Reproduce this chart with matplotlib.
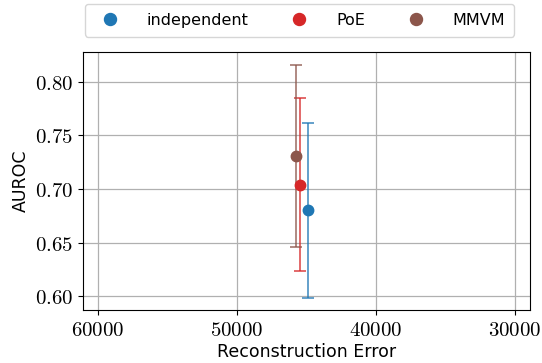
import matplotlib
matplotlib.use("Agg")
import matplotlib.pyplot as plt
from matplotlib.ticker import FuncFormatter

plt.rcParams['mathtext.fontset'] = 'cm'
plt.rcParams['font.family'] = ['DejaVu Sans']

# aggregation methods: reconstruction error vs. AUROC (mean +/- std)
methods = ["independent", "PoE", "MMVM"]
colors = ["tab:blue", "tab:red", "tab:brown"]
rec_error = [44900, 45450, 45780]
auroc = [0.680, 0.704, 0.731]
auroc_std = [0.082, 0.081, 0.085]

fig, ax = plt.subplots(figsize=(5.42, 3.63), dpi=100)

for m, c, x, y, s in zip(methods, colors, rec_error, auroc, auroc_std):
    eb = ax.errorbar(x, y, yerr=s, fmt="o", color=c, ms=7.5, capsize=4,
                     elinewidth=1.3, capthick=1.3, label=m, zorder=3)
    for part in eb[1] + eb[2]:
        part.set_alpha(0.75)

ax.set_xlim(61080, 28920)
ax.set_ylim(0.587, 0.828)
ax.set_xticks([60000, 50000, 40000, 30000])
ax.set_yticks([0.60, 0.65, 0.70, 0.75, 0.80])
ax.xaxis.set_major_formatter(FuncFormatter(lambda v, p: r"$%d$" % v))
ax.yaxis.set_major_formatter(FuncFormatter(lambda v, p: r"$%.2f$" % v))
ax.tick_params(labelsize=15)
ax.grid(True, color="#b0b0b0", linewidth=0.9)
ax.set_axisbelow(True)

ax.set_xlabel("Reconstruction Error", fontsize=12.5, labelpad=2)
ax.set_ylabel("AUROC", fontsize=12.5)

handles, labels = ax.get_legend_handles_labels()
handles = [h[0] for h in handles]
fig.legend(handles, labels, ncol=3, loc="upper center",
           bbox_to_anchor=(0.5526, 1 - 4 / 363), borderaxespad=0,
           fontsize=11.5, columnspacing=2.2, handletextpad=1.3,
           borderpad=0.55, markerscale=1.15)

fig.subplots_adjust(left=0.153, right=0.978, top=0.857, bottom=0.146)
fig.savefig("out.png", dpi=100)
